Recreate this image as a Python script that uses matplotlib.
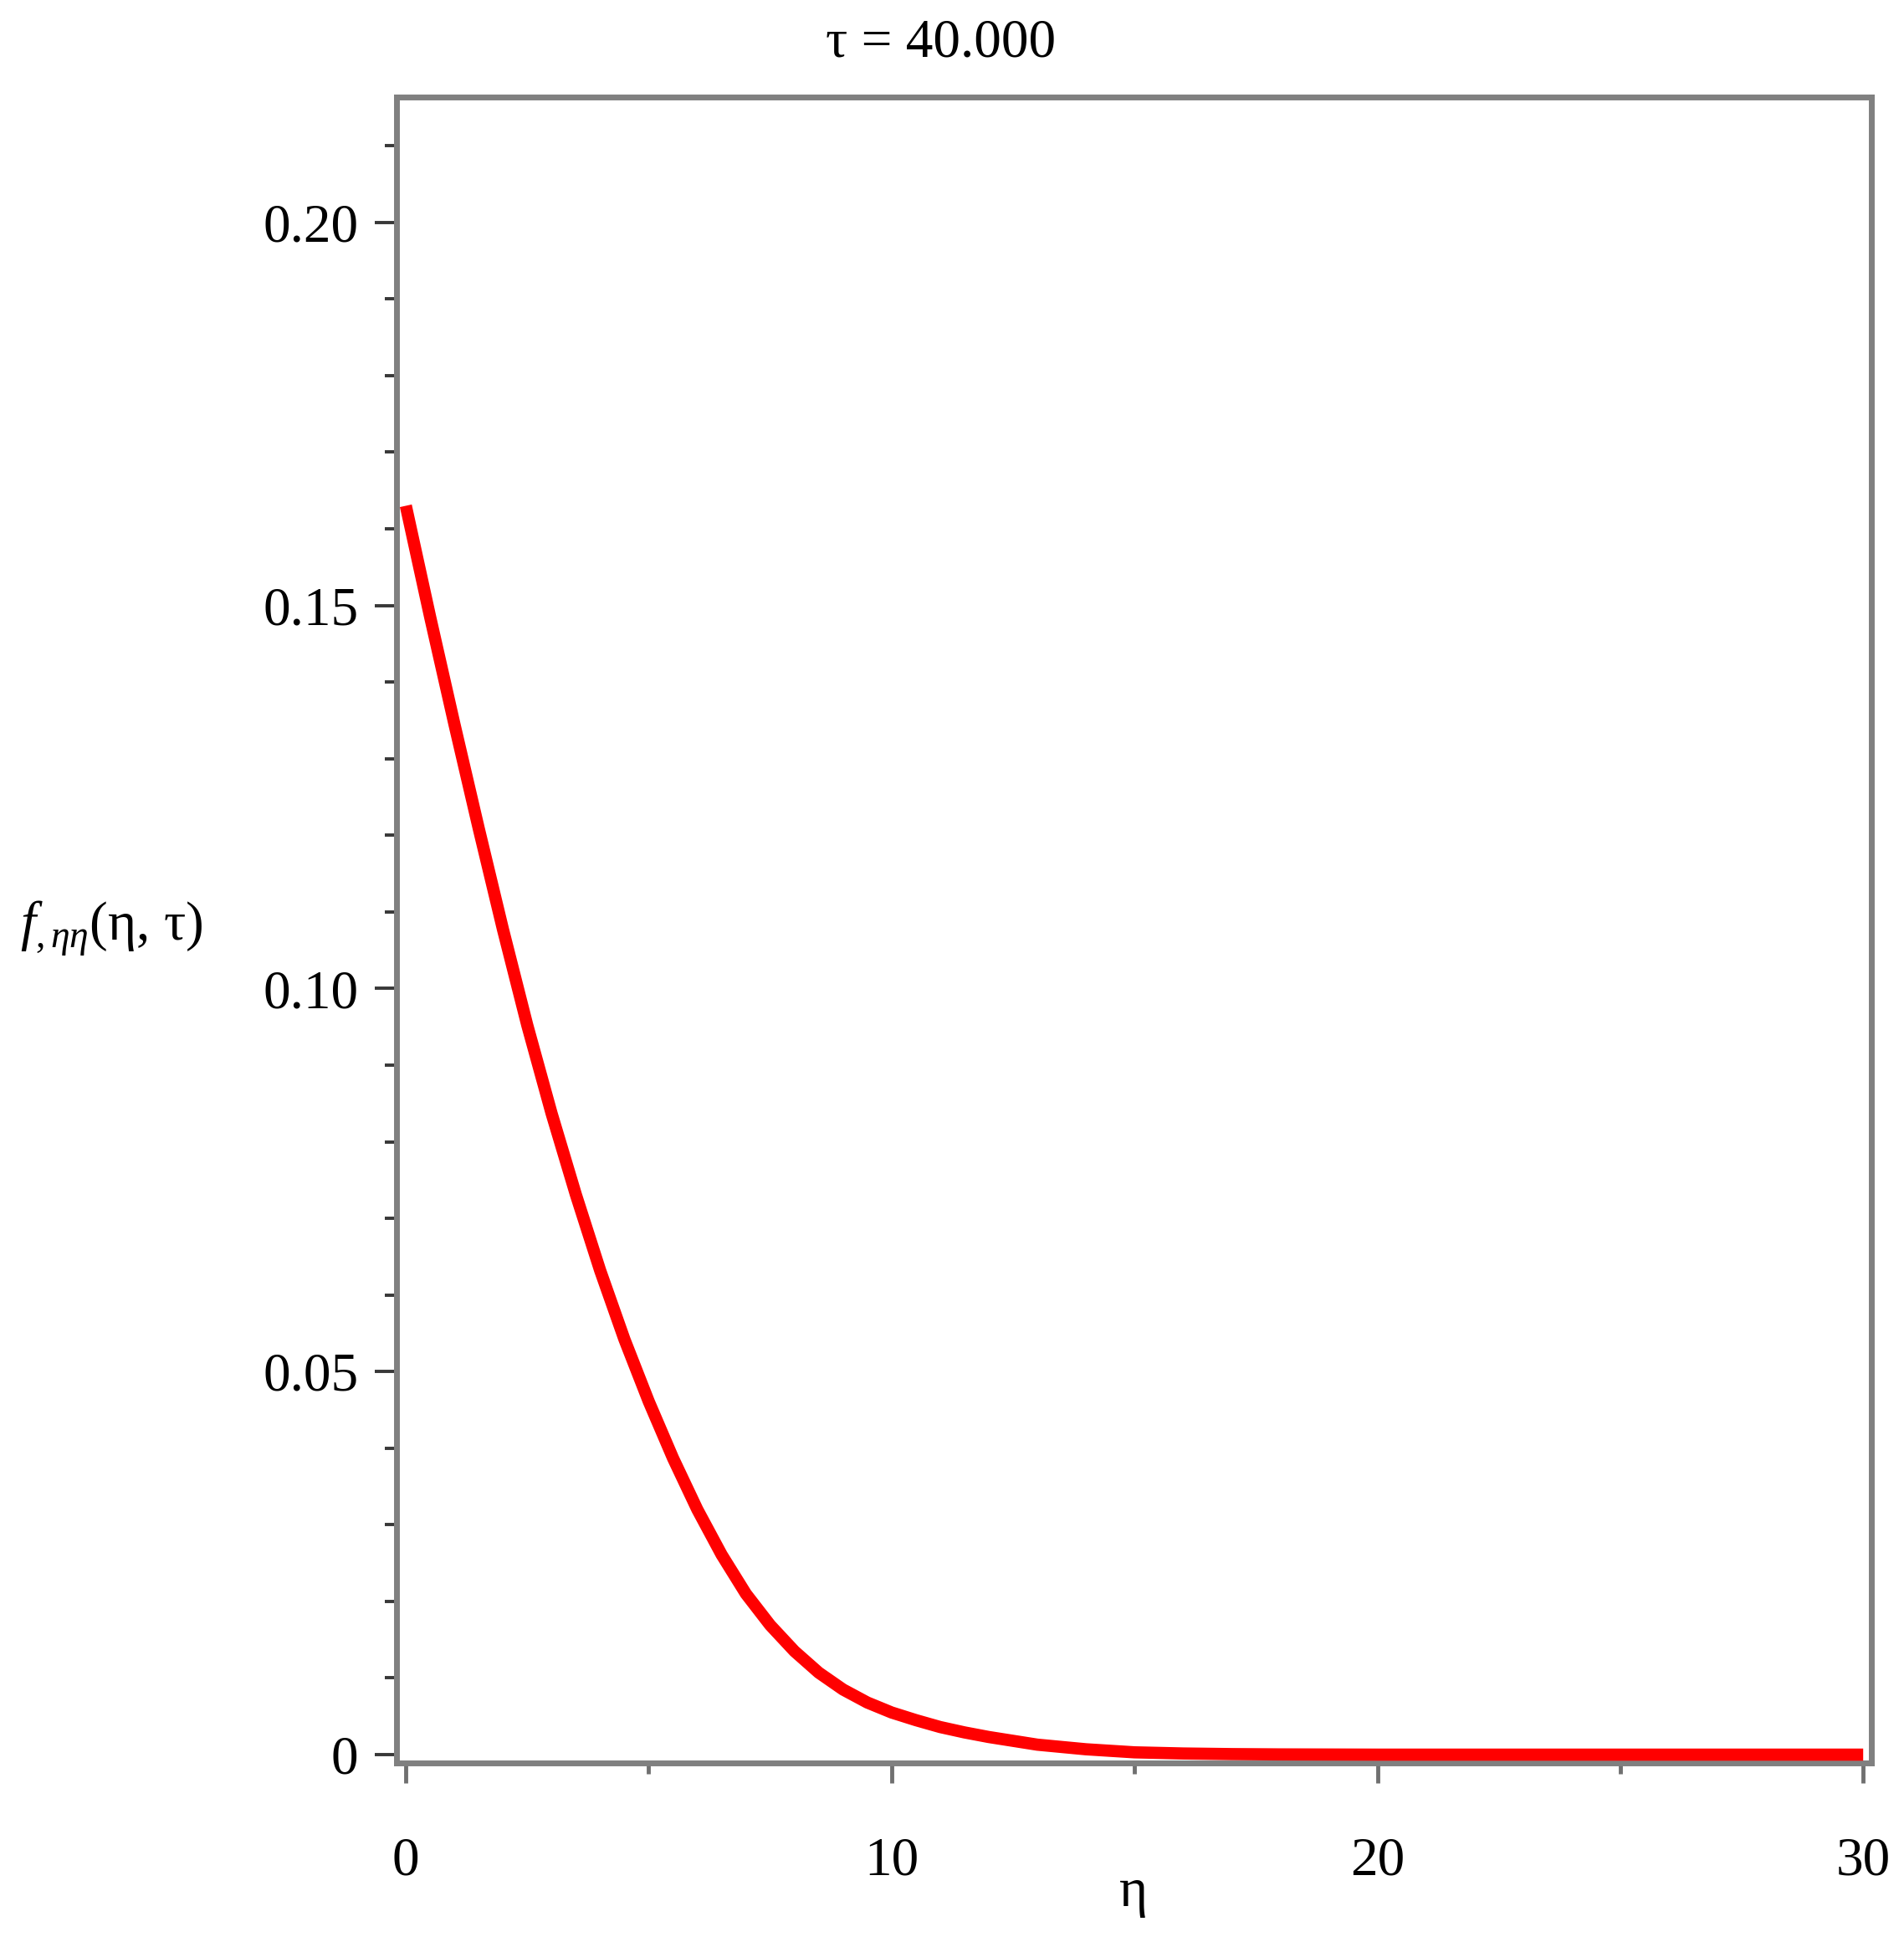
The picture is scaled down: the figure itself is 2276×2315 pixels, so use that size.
import matplotlib
matplotlib.use('Agg')
import matplotlib.pyplot as plt

# values
eta = [0.0, 0.5, 1.0, 1.5, 2.0, 2.5, 3.0, 3.5, 4.0, 4.5, 5.0, 5.5, 6.0, 6.5,
       7.0, 7.5, 8.0, 8.5, 9.0, 9.5, 10.0, 10.5, 11.0, 11.5, 12.0, 12.5, 13.0,
       13.5, 14.0, 14.5, 15.0, 16.0, 17.0, 18.0, 20.0, 25.0, 30.0]
f_eta_eta = [0.163, 0.1485, 0.1345, 0.1209, 0.1077, 0.0952, 0.0837, 0.0731,
             0.0632, 0.0542, 0.0461, 0.0387, 0.0320, 0.0261, 0.0210, 0.0169,
             0.0135, 0.0107, 0.0085, 0.0068, 0.0055, 0.0045, 0.0036, 0.0029,
             0.0023, 0.0018, 0.0013, 0.0010, 0.0007, 0.0005, 0.0003, 0.00015,
             0.00007, 0.00003, 0.0, 0.0, 0.0]

x_major = [0, 10, 20, 30]
x_minor = [5, 15, 25]
y_major = [0, 0.05, 0.10, 0.15, 0.20]
y_major_labels = ['0', '0.05', '0.10', '0.15', '0.20']
y_minor = [0.01, 0.02, 0.03, 0.04, 0.06, 0.07, 0.08, 0.09, 0.11, 0.12, 0.13,
           0.14, 0.16, 0.17, 0.18, 0.19, 0.21]

plt.rcParams['font.family'] = ['Liberation Serif', 'DejaVu Serif']
plt.rcParams['mathtext.fontset'] = 'custom'
plt.rcParams['mathtext.rm'] = 'Liberation Serif'
plt.rcParams['mathtext.it'] = 'Liberation Serif:italic'

fig = plt.figure(figsize=(22.76, 23.15), dpi=100)
ax = fig.add_axes([0.2083, 0.0898, 0.7746, 0.8603])

ax.plot(eta, f_eta_eta, color='#ff0000', lw=10.5, solid_capstyle='butt',
        solid_joinstyle='round', zorder=3)

ax.set_xlim(-0.19, 30.17)
ax.set_ylim(-0.0011, 0.2164)

for s in ax.spines.values():
    s.set_color('#808080')
    s.set_linewidth(5)

ax.set_xticks(x_major)
ax.set_xticks(x_minor, minor=True)
ax.set_yticks(y_major)
ax.set_yticklabels(y_major_labels)
ax.set_yticks(y_minor, minor=True)

ax.tick_params(which='both', direction='out', labelsize=47)
ax.tick_params(axis='y', which='major', length=19, width=2.8, color='#383838', pad=14)
ax.tick_params(axis='y', which='minor', length=10, width=2.8, color='#383838')
ax.tick_params(axis='x', which='major', length=17, width=3.5, color='#707070', pad=46)
ax.tick_params(axis='x', which='minor', length=9, width=3.5, color='#707070')

fig.text(1125 / 2276, 1 - 52 / 2315, 'τ = 40.000', ha='center', va='center', fontsize=47)
fig.text(1355 / 2276, 1 - 2262 / 2315, 'η', ha='center', va='center', fontsize=47)
fig.text(133 / 2276, 1 - 1110 / 2315, r'$f_{,\eta\eta}$(η, τ)',
         ha='center', va='center', fontsize=47)

fig.savefig('out.png', dpi=100)
